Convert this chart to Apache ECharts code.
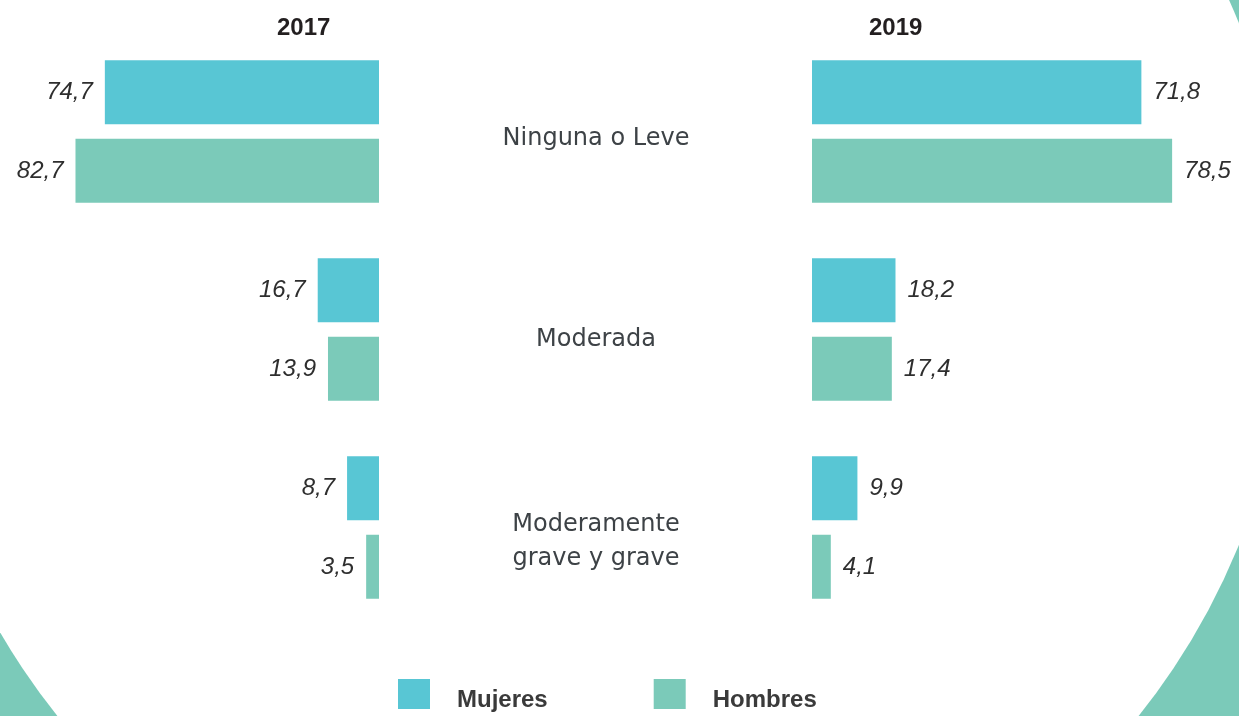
<!DOCTYPE html>
<html>
<head>
<meta charset="utf-8">
<title>Discapacidad por sexo 2017 / 2019</title>
<script src="https://cdn.jsdelivr.net/npm/echarts@6/dist/echarts.min.js"></script>
<style>
  html, body { margin: 0; padding: 0; background: #fff; }
  #chart { width: 1239px; height: 716px; }
</style>
</head>
<body>
<div id="chart"></div>
<script>
// datos
const categories = ['Ninguna o Leve', 'Moderada', 'Moderamente\ngrave y grave'];
const years = ['2017', '2019'];
const seriesNames = ['Mujeres', 'Hombres'];
const mujeres2017 = [74.7, 16.7, 8.7];
const hombres2017 = [82.7, 13.9, 3.5];
const mujeres2019 = [71.8, 18.2, 9.9];
const hombres2019 = [78.5, 17.4, 4.1];

const colorMujeres = '#58c6d4';
const colorHombres = '#7bcab9';
const valueFont = { fontFamily: 'Liberation Sans', fontStyle: 'italic', fontSize: 24, color: '#2e2e2e' };

const fmt = p => String(p.value).replace('.', ',');

function bar(name, data, idx, color, pos) {
  return {
    type: 'bar',
    name: name,
    data: data,
    xAxisIndex: idx,
    yAxisIndex: idx,
    barWidth: 64,
    barGap: '23%',
    itemStyle: { color: color },
    label: Object.assign({ show: true, position: pos, distance: 12, formatter: fmt }, valueFont)
  };
}

const chart = echarts.init(document.getElementById('chart'));
chart.setOption({
  backgroundColor: colorHombres,
  animation: false,
  graphic: {
    elements: [{
      type: 'circle',
      silent: true,
      z: -1,
      shape: { cx: 598, cy: 284, r: 692 },
      style: { fill: '#ffffff' }
    }]
  },
  title: [
    { text: years[0], left: 272, top: 11, textStyle: { fontFamily: 'Liberation Sans', fontSize: 24, fontWeight: 'bold', color: '#231f20' } },
    { text: years[1], left: 864, top: 11, textStyle: { fontFamily: 'Liberation Sans', fontSize: 24, fontWeight: 'bold', color: '#231f20' } }
  ],
  legend: {
    data: seriesNames,
    left: 398,
    top: 679,
    padding: 0,
    itemWidth: 32,
    itemHeight: 30,
    itemGap: 106,
    icon: 'rect',
    itemStyle: { borderWidth: 0 },
    formatter: name => '{t|' + name + '}',
    textStyle: {
      padding: [0, 0, 0, 22],
      rich: {
        t: {
          fontFamily: 'Liberation Sans', fontSize: 24, fontWeight: 'bold', color: '#3a3a3a',
          padding: [12, 0, 0, 0]
        }
      }
    }
  },
  grid: [
    { left: 12, top: 32.5, width: 367, height: 594, outerBoundsMode: 'none' },
    { left: 812, top: 32.5, width: 367, height: 594, outerBoundsMode: 'none' },
    // solo para los textos de categoría del centro
    { left: 812, top: 37.75, width: 367, height: 604.5, outerBoundsMode: 'none' }
  ],
  xAxis: [
    { type: 'value', gridIndex: 0, min: 0, max: 100, inverse: true, show: false },
    { type: 'value', gridIndex: 1, min: 0, max: 80, show: false },
    { type: 'value', gridIndex: 2, min: 0, max: 80, show: false }
  ],
  yAxis: [
    { type: 'category', gridIndex: 0, inverse: true, data: categories, show: false },
    { type: 'category', gridIndex: 1, inverse: true, data: categories, show: false },
    {
      type: 'category', gridIndex: 2, inverse: true, data: categories,
      axisLine: { show: false }, axisTick: { show: false }, splitLine: { show: false },
      axisLabel: {
        margin: 216, align: 'center', fontFamily: 'DejaVu Sans', fontSize: 24,
        lineHeight: 34, color: '#3d4246'
      }
    }
  ],
  series: [
    bar(seriesNames[0], mujeres2017, 0, colorMujeres, 'left'),
    bar(seriesNames[1], hombres2017, 0, colorHombres, 'left'),
    bar(seriesNames[0], mujeres2019, 1, colorMujeres, 'right'),
    bar(seriesNames[1], hombres2019, 1, colorHombres, 'right')
  ]
});
window.addEventListener('resize', () => chart.resize());
</script>
</body>
</html>
